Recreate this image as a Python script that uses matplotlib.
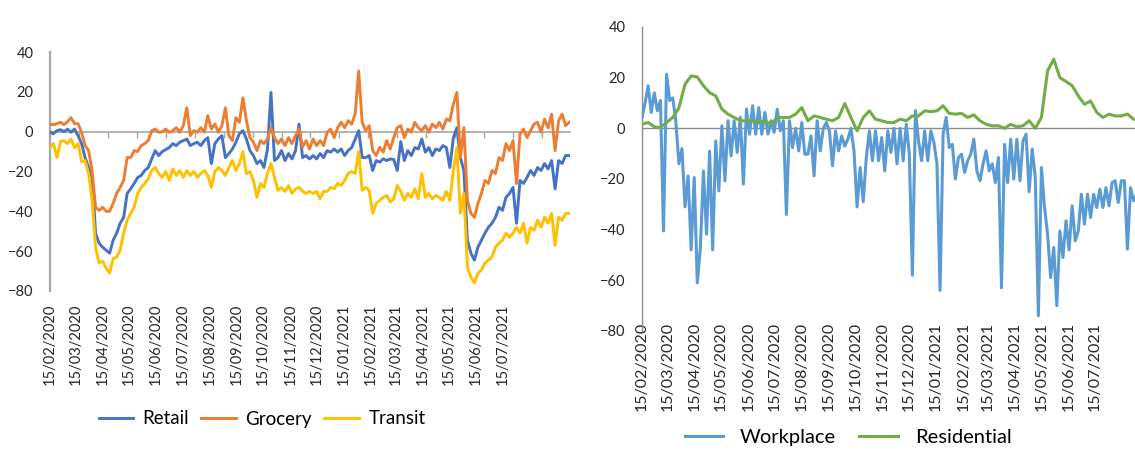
import matplotlib
matplotlib.use("Agg")
import matplotlib.pyplot as plt
import matplotlib.dates as mdates
import pandas as pd

plt.rcParams['font.family'] = ['Lato', 'DejaVu Sans']

# left panel, one value every 4 days from 15/02/2020
retail = [-0.3, -1, 0.5, 1, 0, 1.3, -0.3, 1.3, -2, -6,
          -13, -18, -23, -51, -56, -58, -59.5, -61, -54.5, -51,
          -46, -43, -31, -28.7, -26, -23, -22, -19.5, -18, -13.7,
          -9.5, -12, -10, -9, -8, -6, -7, -5.3, -4.5, -3.7,
          -7, -6, -5.3, -7, -4.5, -3, -16, -6, -3.7, -2,
          -13, -11, -8.7, -5.3, -1, 0.5, -3.7, -9.5, -12, -16,
          -14.5, -18, -8.7, 19.7, -14.5, -13, -9.5, -14.5, -11, -13.7,
          -9.5, 3.8, -13, -12, -13.7, -12, -13.7, -11, -13, -9.5,
          -10.3, -8.7, -10.3, -8.7, -12, -9.5, -8, -3.7, 0.5, -13,
          -13, -12, -19.5, -14.5, -15.3, -13.7, -14.5, -13.7, -14, -19.5,
          -5, -14.5, -9.5, -12, -8, -8.7, -3.7, -10.3, -8, -12,
          -8.7, -9.5, -7, -8, -18, -3, 2, -13, -19.5, -54.5,
          -61, -64.5, -58, -54.5, -51, -48, -46, -43, -38, -39.5,
          -33, -31, -28, -46, -24.5, -26, -23, -19.5, -22, -18,
          -19.5, -16, -18.7, -14.5, -28.7, -14.5, -16, -12, -12]
grocery = [3.8, 3.5, 4, 4.7, 3.5, 5, 7, 4, 4, -0.3,
           -7, -9.5, -19.5, -38, -39.5, -38, -40, -40, -36, -31,
           -28, -24.5, -13, -13, -9.5, -10, -7, -6, -4.5, 0.5,
           1.3, -0.3, 0, 1.3, -0.3, 0.5, 2, -0.3, 3, 12,
           -2, 0.5, -0.3, 2, -0.3, 8, 1.3, 3.8, -0.3, 3,
           12, -2, -4.5, 7, 4.7, 17, 5.5, -3, -5.3, -9.5,
           -4.5, -6, -3.7, 2, -3, -6, -3.7, -7, -3, -6,
           -2, 1.3, -7.8, -4.5, -8.7, -3.7, -7, -4.5, -7, -0.3,
           1.3, -3, 2, 4.7, 2, 5.5, 3.8, 8.8, 30.5, 4.7,
           0.5, 3, -9.5, -12, -7.8, -10.3, -4.5, -8.7, -3, 2,
           3, -3, 1.3, -0.3, 4.7, 2, 0.5, 3, -0.3, 3.8,
           2, 4.7, 1.3, 6.3, 5.5, 13.8, 19.7, -13, 2, -34.5,
           -41, -43, -36, -31, -24.5, -26, -19.5, -21, -13, -14.5,
           -6, -9.5, -4.5, -26, -1, 1.3, -3, 0.5, 3.8, 4.7,
           -0.3, 6.3, 2, 8.8, -9.5, 5.5, 8.8, 3, 4.7]
transit = [-8, -6, -13, -5, -4.5, -6, -3.7, -8, -6, -15,
           -14.5, -21, -34.5, -58, -66, -65, -68.5, -71, -63.7, -63,
           -59.5, -51, -44.5, -41, -38, -31, -28, -26, -23.7, -19.5,
           -18, -21, -23, -20, -24.5, -18.7, -22, -19.5, -23, -19.5,
           -22, -20, -23, -21, -19.5, -22, -28, -20, -18, -19.5,
           -22, -18, -14.5, -19.5, -16, -10, -21, -20, -24.5, -33,
           -26, -28, -21, -16, -23, -29.5, -28, -30, -27, -31,
           -28.7, -28, -30, -31, -30, -31, -30, -33.7, -30, -30,
           -28, -28.7, -26, -27, -24.5, -21, -20, -21, -10, -29.5,
           -28, -29.5, -41, -36, -34.5, -33, -32, -35.3, -33.7, -27,
           -30, -34.5, -31, -33, -28.7, -33.7, -21, -33, -31, -33.7,
           -32, -33, -34.5, -30, -34.5, -19.5, -8, -41, -31, -68,
           -73, -76, -71, -69.5, -66, -64.5, -63, -58, -56, -54.5,
           -51, -53, -51, -48, -51, -46, -56, -48, -49.5, -44.5,
           -48, -43, -46, -41, -57, -43, -44.5, -41, -41]

# right panel, workplace every 3.5 days, residential every 7 days
workplace = [4.3, 10, 16.8, 6.3, 14, 6.9, 11, -40.5, 21.4, 11,
             12, 3, -14, -8, -31, -18.8, -48, -19.4, -61, -47,
             -16.8, -41.8, -9, -48, -5, -24.7, 1, -20.7, 3, -10.9,
             3, -9.5, 4.3, -22, 7.6, -2.3, 8.9, -2.3, 8.2, -2.3,
             6.3, -2.3, 3, -1.6, 7.6, -1, 3, -34, 3, -7.6,
             0, -8.9, 2.3, -10.2, -10.2, -3, -18.8, 3, -8.9, 0,
             2.3, -1, -14.8, -1, -8.9, -3, -7, -4.3, 0, -8.9,
             -31, -15.5, -29, -11.5, -1, -12.8, -1, -12.8, -3.6, -16.8,
             -1, -9.5, 0, -14, 0, -12.8, 1.6, -10.2, -58, 7,
             -5, -12.8, -1, -12.8, -1, -5.6, -14, -64, -2.3, 4.3,
             -7.6, -6.3, -20, -11.5, -10.2, -17.4, -12.8, -10.2, -4.3, -16.8,
             -20.7, -14, -8.9, -16.8, -14, -21.4, -11.5, -63, -6.3, -21.4,
             -4.3, -20, -4.3, -20.7, -5, -2.3, -25, -8.2, -19.4, -74,
             -15.5, -31, -41.8, -58.9, -47, -70, -40.5, -51, -36.5, -48,
             -30.6, -44.4, -40.5, -26, -37.8, -26, -35.2, -26, -31.3, -24,
             -31.3, -23.4, -30.6, -21.4, -20.7, -29.3, -20.7, -20.7, -47.7, -23.4,
             -28.6, -26]
residential = [1.6, 2.3, 0.6, 0.3, 2.3, 4.3, 8, 17.4, 20.7, 20.3,
               16.8, 14.1, 12.8, 7.6, 5.6, 4.3, 3, 3, 3, 2.3,
               3, 1.6, 4.3, 4.3, 4.3, 5.6, 8.2, 3, 4.9, 4.3,
               3.6, 3, 4.3, 9.8, 4.3, -1, 4.3, 6.9, 3.6, 3,
               2.3, 2.3, 3.6, 3, 4.9, 4.9, 6.9, 6.6, 6.9, 8.9,
               5.9, 5.6, 5.9, 4.3, 5.3, 3, 1.6, 1, 1, 0,
               1.6, 0.6, 1, 3, 0, 4.3, 22.7, 27.3, 20, 18.5,
               16.8, 12.8, 9.5, 10.8, 6.3, 4.3, 5.6, 4.9, 4.9, 5.6,
               3.6]

start = pd.Timestamp('2020-02-15')
left_dates = pd.date_range(start, periods=len(retail), freq='4D')
work_dates = pd.date_range(start, periods=len(workplace), freq='84h')
res_dates = pd.date_range(start, periods=len(residential), freq='7D')
tick_dates = pd.date_range('2020-02-01', periods=18, freq='MS') + pd.Timedelta(days=14)
tick_labels = [d.strftime('%d/%m/%Y') for d in tick_dates]
minor_marks = pd.date_range(start, periods=18, freq='33D')

gray = '#A6A6A6'
text_col = '#262626'

fig = plt.figure(figsize=(11.35, 4.5), dpi=100)

# ---- left chart
ax1 = fig.add_axes([50 / 1135, 1 - 291 / 450, 520 / 1135, 239 / 450])
ax1.plot(left_dates, retail, color='#4472C4', lw=2.1, label='Retail', zorder=3)
ax1.plot(left_dates, grocery, color='#ED7D31', lw=2.1, label='Grocery', zorder=3)
ax1.plot(left_dates, transit, color='#FFC000', lw=2.1, label='Transit', zorder=3)
ax1.set_ylim(-80, 40)
ax1.set_yticks(range(-80, 41, 20))
ax1.set_xlim(start, start + pd.Timedelta(days=593))
ax1.set_xticks(tick_dates)
ax1.set_xticklabels(tick_labels, rotation=90)
ax1.tick_params(axis='both', length=0, labelsize=10.5, colors=text_col)
ax1.tick_params(axis='x', pad=9)
ax1.tick_params(axis='y', pad=12)
for s in ['top', 'right', 'bottom']:
    ax1.spines[s].set_visible(False)
ax1.spines['left'].set_color(gray)
ax1.spines['left'].set_linewidth(1.6)

# zero line with its small tick marks
zero1 = ax1.secondary_xaxis(2 / 3)
zero1.set_xticks(mdates.date2num(minor_marks))
zero1.tick_params(direction='in', length=4, width=1, color=gray, labeltop=False, labelbottom=False)
zero1.spines['top'].set_color(gray)
zero1.spines['top'].set_linewidth(1.2)

ax1.legend(loc='center', bbox_to_anchor=(262 / 1135, 1 - 419 / 450),
           bbox_transform=fig.transFigure, ncol=3, frameon=False, fontsize=13.5,
           handlelength=1.85, handletextpad=0.5, columnspacing=0.65)

# ---- right chart
ax2 = fig.add_axes([642 / 1135, 1 - 331 / 450, 496 / 1135, 304 / 450])
ax2.plot(work_dates, workplace, color='#5B9BD5', lw=2.2, label='Workplace', zorder=3)
ax2.plot(res_dates, residential, color='#70AD47', lw=2.2, label='Residential', zorder=3)
ax2.set_ylim(-80, 40)
ax2.set_yticks(range(-80, 41, 20))
ax2.set_xlim(start, start + pd.Timedelta(days=565))
ax2.set_xticks(tick_dates)
ax2.set_xticklabels(tick_labels, rotation=90)
ax2.tick_params(axis='both', length=0, labelsize=10.5, colors=text_col)
ax2.tick_params(axis='x', pad=-6.5, labelsize=11.5)
ax2.tick_params(axis='y', pad=12)
for s in ['top', 'right', 'bottom']:
    ax2.spines[s].set_visible(False)
ax2.spines['left'].set_color('#8C8C8C')
ax2.spines['left'].set_linewidth(1)
ax2.axhline(0, color='#8C8C8C', lw=1, zorder=2)

ax2.legend(loc='center', bbox_to_anchor=(848 / 1135, 1 - 437 / 450),
           bbox_transform=fig.transFigure, ncol=2, frameon=False, fontsize=14.5,
           handlelength=1.9, handletextpad=0.85, columnspacing=1.15)

fig.savefig('out.png', dpi=100)
